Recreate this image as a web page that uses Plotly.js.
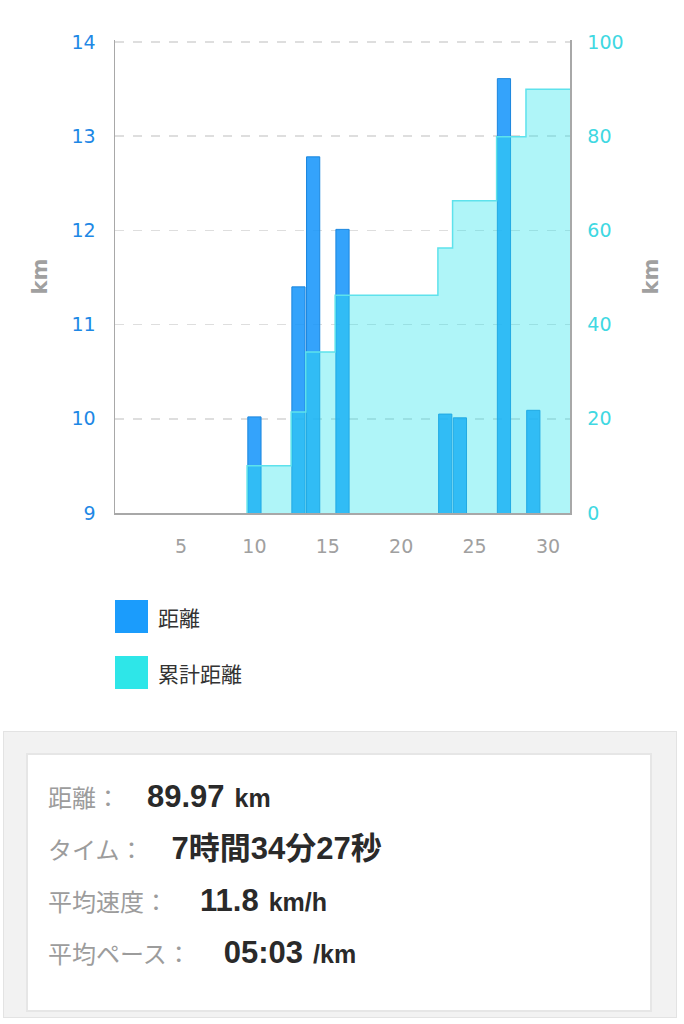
<!DOCTYPE html>
<html>
<head>
<meta charset="utf-8">
<script src="https://cdn.plot.ly/plotly-3.0.1.min.js"></script>
<style>
  body { margin: 0; background: #fff; width: 684px; font-family: "Noto Sans CJK JP", sans-serif; }
  #chart { width: 684px; height: 570px; }
  .legend { margin: 30px 0 0 115px; height: 131px; }
  .legend-row { display: flex; align-items: center; height: 33px; margin-bottom: 23px; }
  .swatch { width: 33px; height: 33px; margin-right: 10px; }
  .legend-row span { font-size: 21px; color: #333; }
  .stats-outer { margin-left: 3px; width: 672px; height: 285px; background: #f2f2f2; border: 1px solid #e3e3e3; position: relative; }
  .stats-inner { position: absolute; left: 22px; top: 21px; width: 622px; height: 239px; background: #fff; border: 2px solid #e6e6e6; padding-top: 16px; box-sizing: content-box; }
  .row { height: 52px; line-height: 52px; padding-left: 20px; white-space: nowrap; }
  .lbl { font-size: 24px; color: #9c9c9c; }
  .val { font-family: "Liberation Sans", Arial, "Noto Sans CJK JP", sans-serif; font-weight: bold; font-size: 31px; color: #2a2a2a; }
  .unit { font-family: "Liberation Sans", Arial, sans-serif; font-weight: bold; font-size: 25px; color: #2a2a2a; margin-left: 10px; }
</style>
</head>
<body>
<div id="chart"></div>
<div class="legend" id="legend"></div>
<div class="stats-outer"><div class="stats-inner" id="stats"></div></div>
<script>
// daily distances (km), month of 31 days
const monthDays = 31
const runDays = [10, 13, 14, 16, 23, 24, 27, 29]
const runKm = [10.02, 11.40, 12.78, 12.01, 10.05, 10.01, 13.61, 10.09]
const cumKm = [10.02, 21.42, 34.20, 46.21, 56.26, 66.27, 79.88, 89.97]

const xTicks = [5, 10, 15, 20, 25, 30]

const seriesNames = ['距離', '累計距離']
const seriesColors = ['#1b9cfc', '#2ee6e8']

const statLabels = ['距離：', 'タイム：', '平均速度：', '平均ペース：']
const statValues = ['89.97', '7時間34分27秒', '11.8', '05:03']
const statUnits = ['km', '', 'km/h', '/km']

// step line for cumulative distance, edges at day boundaries
const stepX = [runDays[0] - 0.5]
const stepY = [0]
for (let i = 0; i < runDays.length; i++) {
  stepX.push(runDays[i] - 0.5)
  stepY.push(cumKm[i])
}
stepX.push(monthDays + 0.5)
stepY.push(cumKm[cumKm.length - 1])

const traces = [
  {
    type: 'bar',
    x: runDays,
    y: runKm,
    width: 0.9,
    name: seriesNames[0],
    marker: { color: 'rgba(24,150,250,0.88)', line: { color: '#1a86de', width: 1 } },
    yaxis: 'y'
  },
  {
    type: 'scatter',
    mode: 'lines',
    x: stepX,
    y: stepY,
    name: seriesNames[1],
    line: { shape: 'hv', color: '#5ee2ec', width: 1.5 },
    fill: 'tozeroy',
    fillcolor: 'rgba(45,228,236,0.38)',
    yaxis: 'y2'
  }
]

const tickFontFamily = '"DejaVu Sans", Verdana, sans-serif'
// small headroom (fraction of range) so the top grid line at 14 is drawn
const pad = 0.004

const layout = {
  width: 684,
  height: 570,
  margin: { l: 115, r: 114, t: 40, b: 57 },
  paper_bgcolor: '#fff',
  plot_bgcolor: '#fff',
  showlegend: false,
  xaxis: {
    range: [0.5, monthDays + 0.5],
    tickvals: xTicks,
    showgrid: false,
    zeroline: false,
    showline: true,
    linecolor: '#a8a8a8',
    linewidth: 1.5,
    ticks: '',
    ticklabelstandoff: 16,
    tickfont: { family: tickFontFamily, size: 19, color: '#a0a0a0' },
    fixedrange: true
  },
  yaxis: {
    range: [9, 14 + 5 * pad],
    dtick: 1,
    showgrid: true,
    gridcolor: '#dedede',
    griddash: 'dash',
    gridwidth: 1.5,
    zeroline: false,
    showline: true,
    linecolor: '#a8a8a8',
    linewidth: 1.5,
    ticks: '',
    ticklabelstandoff: 14,
    tickfont: { family: tickFontFamily, size: 19, color: '#1e88e5' },
    title: { text: 'km', standoff: 18, font: { family: tickFontFamily, size: 21, color: '#a0a0a0', weight: 'bold' } }
  },
  yaxis2: {
    overlaying: 'y',
    side: 'right',
    range: [0, 100 + 100 * pad],
    dtick: 20,
    showgrid: false,
    zeroline: false,
    showline: true,
    linecolor: '#a8a8a8',
    linewidth: 1.5,
    ticks: '',
    ticklabelstandoff: 12,
    tickfont: { family: tickFontFamily, size: 19, color: '#40d8e2' },
    title: { text: 'km', standoff: 20, font: { family: tickFontFamily, size: 21, color: '#a0a0a0', weight: 'bold' } }
  }
}

Plotly.newPlot('chart', traces, layout, { displayModeBar: false, staticPlot: true })

// legend
const legendEl = document.getElementById('legend')
for (let i = 0; i < seriesNames.length; i++) {
  const row = document.createElement('div')
  row.className = 'legend-row'
  row.innerHTML = `<div class="swatch" style="background:${seriesColors[i]}"></div><span>${seriesNames[i]}</span>`
  legendEl.appendChild(row)
}

// summary box
const gaps = [27, 28, 32, 33]
const statsEl = document.getElementById('stats')
for (let i = 0; i < statLabels.length; i++) {
  const row = document.createElement('div')
  row.className = 'row'
  const unit = statUnits[i] ? `<span class="unit">${statUnits[i]}</span>` : ''
  row.innerHTML = `<span class="lbl">${statLabels[i]}</span><span class="val" style="margin-left:${gaps[i]}px">${statValues[i]}</span>${unit}`
  statsEl.appendChild(row)
}
</script>
</body>
</html>
